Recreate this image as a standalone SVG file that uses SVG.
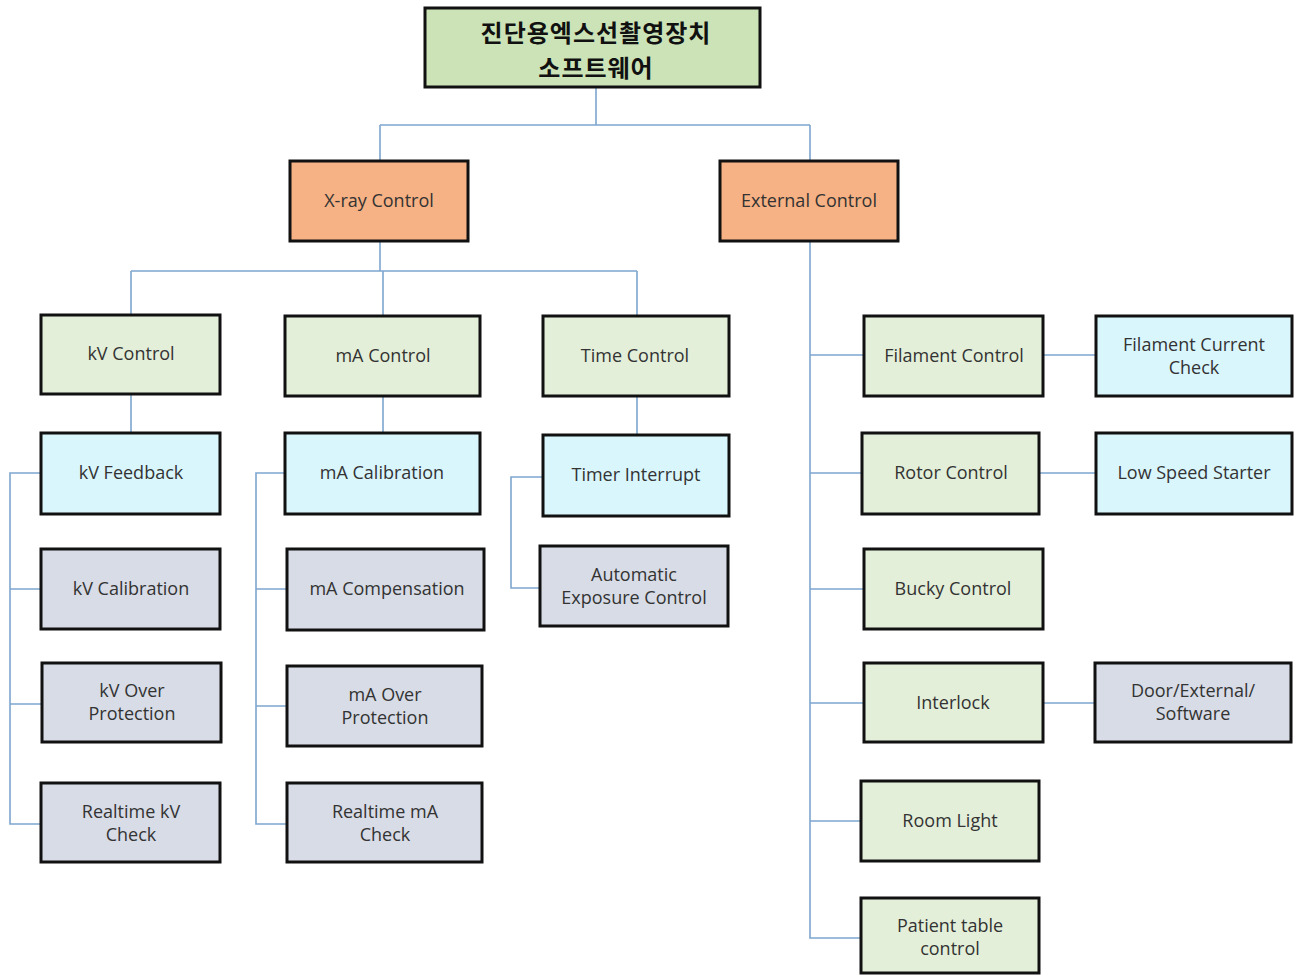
<svg xmlns="http://www.w3.org/2000/svg" width="1297" height="976" viewBox="0 0 1297 976">
  <style>
    .box { stroke: #111; stroke-width: 3; }
    .root { fill: #cbe3b6; }
    .l1 { fill: #f6b184; }
    .l2 { fill: #e3efd9; }
    .l3 { fill: #d9f6fd; }
    .l4 { fill: #d7dce6; }
    .lbl { font-family: "Open Sans", "Noto Sans", sans-serif; font-size: 18px; fill: #333; text-anchor: middle; dominant-baseline: central; }
    .title { font-family: "Noto Sans CJK KR", sans-serif; font-size: 24px; font-weight: bold; fill: #111; text-anchor: middle; letter-spacing: 1px; }
    .conn { fill: none; stroke: #7ea6cf; stroke-width: 1.6; }
  </style>
  <rect width="1297" height="976" fill="#fff"/>

  <g id="connectors">
    <!-- root to level 1 -->
    <path class="conn" d="M596 87 V125 M380 125 H810 M380 125 V161 M810 125 V161"/>
    <!-- X-ray Control branches -->
    <path class="conn" d="M380 241 V271 M131 271 H637 M131 271 V315 M383 271 V316 M637 271 V316"/>
    <path class="conn" d="M131 394 V433 M383 396 V433 M637 396 V435"/>
    <!-- kV bus -->
    <path class="conn" d="M41 473 H10 V824 H41 M10 589 H41 M10 704 H42"/>
    <!-- mA bus -->
    <path class="conn" d="M285 473 H256 V824 H287 M256 589 H287 M256 706 H287"/>
    <!-- Time bus -->
    <path class="conn" d="M543 477 H511 V588 H540"/>
    <!-- External Control bus -->
    <path class="conn" d="M810 241 V938 H861 M810 355 H864 M810 473 H862 M810 589 H864 M810 703 H864 M810 821 H861"/>
    <!-- side links -->
    <path class="conn" d="M1043 355 H1096 M1039 473 H1096 M1043 703 H1095"/>
  </g>

  <g id="root">
    <rect class="box root" x="425" y="8" width="335" height="79"/>
    <text class="title" x="596" y="42">진단용엑스선촬영장치</text>
    <text class="title" x="596" y="77">소프트웨어</text>
  </g>

  <g id="xray-control">
    <rect class="box l1" x="290" y="161" width="178" height="80"/>
    <text class="lbl" x="379" y="200">X-ray Control</text>
  </g>
  <g id="external-control">
    <rect class="box l1" x="720" y="161" width="178" height="80"/>
    <text class="lbl" x="809" y="200">External Control</text>
  </g>

  <g id="kv-control">
    <rect class="box l2" x="41" y="315" width="179" height="79"/>
    <text class="lbl" x="131" y="353">kV Control</text>
  </g>
  <g id="ma-control">
    <rect class="box l2" x="285" y="316" width="195" height="80"/>
    <text class="lbl" x="383" y="355">mA Control</text>
  </g>
  <g id="time-control">
    <rect class="box l2" x="543" y="316" width="186" height="80"/>
    <text class="lbl" x="635" y="355">Time Control</text>
  </g>

  <g id="kv-feedback">
    <rect class="box l3" x="41" y="433" width="179" height="81"/>
    <text class="lbl" x="131" y="472">kV Feedback</text>
  </g>
  <g id="ma-calibration">
    <rect class="box l3" x="285" y="433" width="195" height="81"/>
    <text class="lbl" x="382" y="472">mA Calibration</text>
  </g>
  <g id="timer-interrupt">
    <rect class="box l3" x="543" y="435" width="186" height="81"/>
    <text class="lbl" x="636" y="474">Timer Interrupt</text>
  </g>

  <g id="kv-calibration">
    <rect class="box l4" x="41" y="549" width="179" height="80"/>
    <text class="lbl" x="131" y="588">kV Calibration</text>
  </g>
  <g id="kv-over-protection">
    <rect class="box l4" x="42" y="663" width="179" height="79"/>
    <text class="lbl" x="132" y="690">kV Over</text>
    <text class="lbl" x="132" y="713">Protection</text>
  </g>
  <g id="realtime-kv-check">
    <rect class="box l4" x="41" y="783" width="179" height="79"/>
    <text class="lbl" x="131" y="811">Realtime kV</text>
    <text class="lbl" x="131" y="834">Check</text>
  </g>

  <g id="ma-compensation">
    <rect class="box l4" x="287" y="549" width="197" height="81"/>
    <text class="lbl" x="387" y="588">mA Compensation</text>
  </g>
  <g id="ma-over-protection">
    <rect class="box l4" x="287" y="666" width="195" height="80"/>
    <text class="lbl" x="385" y="694">mA Over</text>
    <text class="lbl" x="385" y="717">Protection</text>
  </g>
  <g id="realtime-ma-check">
    <rect class="box l4" x="287" y="783" width="195" height="79"/>
    <text class="lbl" x="385" y="811">Realtime mA</text>
    <text class="lbl" x="385" y="834">Check</text>
  </g>

  <g id="automatic-exposure-control">
    <rect class="box l4" x="540" y="546" width="188" height="80"/>
    <text class="lbl" x="634" y="574">Automatic</text>
    <text class="lbl" x="634" y="597">Exposure Control</text>
  </g>

  <g id="filament-control">
    <rect class="box l2" x="864" y="316" width="179" height="80"/>
    <text class="lbl" x="954" y="355">Filament Control</text>
  </g>
  <g id="filament-current-check">
    <rect class="box l3" x="1096" y="316" width="196" height="80"/>
    <text class="lbl" x="1194" y="344">Filament Current</text>
    <text class="lbl" x="1194" y="367">Check</text>
  </g>
  <g id="rotor-control">
    <rect class="box l2" x="862" y="433" width="177" height="81"/>
    <text class="lbl" x="951" y="472">Rotor Control</text>
  </g>
  <g id="low-speed-starter">
    <rect class="box l3" x="1096" y="433" width="196" height="81"/>
    <text class="lbl" x="1194" y="472">Low Speed Starter</text>
  </g>
  <g id="bucky-control">
    <rect class="box l2" x="864" y="549" width="179" height="80"/>
    <text class="lbl" x="953" y="588">Bucky Control</text>
  </g>
  <g id="interlock">
    <rect class="box l2" x="864" y="663" width="179" height="79"/>
    <text class="lbl" x="953" y="702">Interlock</text>
  </g>
  <g id="door-external-software">
    <rect class="box l4" x="1095" y="663" width="196" height="79"/>
    <text class="lbl" x="1193" y="690">Door/External/</text>
    <text class="lbl" x="1193" y="713">Software</text>
  </g>
  <g id="room-light">
    <rect class="box l2" x="861" y="781" width="178" height="80"/>
    <text class="lbl" x="950" y="820">Room Light</text>
  </g>
  <g id="patient-table-control">
    <rect class="box l2" x="861" y="898" width="178" height="75"/>
    <text class="lbl" x="950" y="925">Patient table</text>
    <text class="lbl" x="950" y="948">control</text>
  </g>
</svg>
